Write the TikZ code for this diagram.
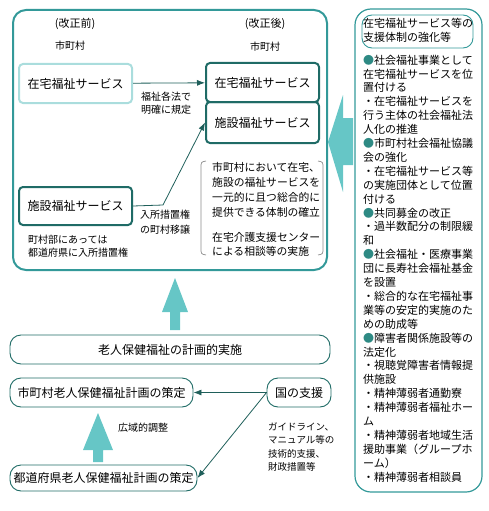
\documentclass[tikz,border=0pt]{standalone}
\usepackage{fontspec}
\setmainfont{Noto Sans CJK JP}
\usetikzlibrary{arrows.meta,calc}
\definecolor{frame}{HTML}{339999}
\definecolor{darkbox}{HTML}{1F6B66}
\definecolor{lightbox}{HTML}{AADDDD}
\definecolor{bigarrow}{HTML}{66C6C6}
\definecolor{conncol}{HTML}{1F5F5A}
\definecolor{brk}{HTML}{8A8A8A}
\definecolor{bul}{HTML}{2E8A84}
\begin{document}
\begin{tikzpicture}[x=1pt,y=-1pt,
  fA/.style={font=\fontsize{12}{14}\selectfont},
  fB/.style={font=\fontsize{11}{13.9}\selectfont},
  fC/.style={font=\fontsize{10}{13}\selectfont},
  darkstyle/.style={draw=darkbox,line width=2pt,rounded corners=4pt,inner sep=0pt,fA},
  lightstyle/.style={draw=lightbox,line width=2pt,rounded corners=4pt,inner sep=0pt,fA},
  planstyle/.style={draw=darkbox,line width=0.9pt,rounded corners=11pt,inner sep=0pt,fA},
  conn/.style={draw=conncol,line width=0.8pt,-{Latex[length=8pt,width=6pt]}},
  arr/.style={fill=bigarrow,draw=none},
  lbl/.style={inner sep=0pt}]
\useasboundingbox (0,0) rectangle (488,511);

% main frame
\draw[frame,line width=2pt,rounded corners=13pt] (13,10) rectangle (327,270);
% right frame
\draw[frame,line width=1.2pt,rounded corners=16pt] (355,9) rectangle (482,492);
\draw[frame,line width=0.9pt,rounded corners=10pt] (362,15) rectangle (473,48);

% headings
\node[lbl,fB] (before) at (75,24) {(改正前)};
\node[lbl,fC] (cityL) at (70,46) {市町村};
\node[lbl,fB] (after) at (265,24) {(改正後)};
\node[lbl,fC] (cityR) at (265,47) {市町村};

% service boxes
\node[lightstyle,minimum width=113pt,minimum height=39pt] (zai1) at (75.5,83.5) {在宅福祉サービス};
\node[darkstyle,minimum width=113pt,minimum height=39pt] (zai2) at (262.5,82.5) {在宅福祉サービス};
\node[darkstyle,minimum width=113pt,minimum height=41pt] (shi2) at (262.5,122.5) {施設福祉サービス};
\node[darkstyle,minimum width=113pt,minimum height=38pt] (shi1) at (75.5,206) {施設福祉サービス};

\node[lbl,fC,align=center] (law) at (166,103.5) {福祉各法で\\明確に規定};
\node[lbl,fC,align=center,font=\fontsize{10}{15}\selectfont] (trans) at (165,222.5) {入所措置権\\の町村移譲};
\node[lbl,fC,align=left,anchor=west] (town) at (28,246.5) {町村部にあっては\\都道府県に入所措置権};

\draw[conn] (zai1) -- (zai2);
\coordinate (bend) at (163,205);
\draw[conn] (shi1.east) -- (bend) -- (shi2.west);

% bracket text
\draw[brk,line width=0.7pt] (206,161) .. controls (201,162) .. (201,168) -- (201,248) .. controls (201,254) .. (206,255);
\draw[brk,line width=0.7pt] (318,161) .. controls (323,162) .. (323,168) -- (323,248) .. controls (323,254) .. (318,255);
\node[lbl,anchor=west,align=left,font=\fontsize{10.8}{15}\selectfont] (sys) at (212,189.5) {市町村において在宅、\\施設の福祉サービスを\\一元的に且つ総合的に\\提供できる体制の確立};
\node[lbl,anchor=west,align=left,font=\fontsize{10.8}{13.5}\selectfont] (center) at (212,244.5) {在宅介護支援センター\\による相談等の実施};

% big arrows
\fill[arr] (328,142) -- (343,95) -- (343,118) -- (353,118) -- (353,165) -- (343,165) -- (343,192) -- cycle;
\fill[arr] (175,278) -- (188,312) -- (180,312) -- (180,330) -- (170,330) -- (170,312) -- (162,312) -- cycle;
\fill[arr] (98,413) -- (113,450) -- (103,450) -- (103,462) -- (93,462) -- (93,450) -- (83,450) -- cycle;

% bottom part
\node[planstyle,minimum width=320pt,minimum height=29pt] (plan) at (170,349.5) {老人保健福祉の計画的実施};
\node[planstyle,minimum width=183pt,minimum height=29pt] (shiplan) at (101.5,392.5) {市町村老人保健福祉計画の策定};
\node[planstyle,minimum width=64pt,minimum height=29pt] (kuni) at (299,392.5) {国の支援};
\node[planstyle,minimum width=187pt,minimum height=26pt] (todo) at (103.5,478) {都道府県老人保健福祉計画の策定};

\draw[conn] (kuni.west) -- (kuni.west -| shiplan.east);
\draw[conn] (kuni.west) -- (todo.east);

\node[lbl,fC,anchor=west] (wide) at (118,428) {広域的調整};
\node[lbl,anchor=west,align=left,font=\fontsize{9.5}{13.3}\selectfont] (guide) at (268,447) {ガイドライン、\\マニュアル等の\\技術的支援、\\財政措置等};

% right column
\node[lbl,anchor=west,align=left,font=\fontsize{11}{14}\selectfont] (head) at (363,30) {在宅福祉サービス等の\\支援体制の強化等};
\foreach \t [count=\i] in {
  {\textcolor{bul}{●}社会福祉事業として},
  {在宅福祉サービスを位},
  {置付ける},
  {・在宅福祉サービスを},
  {行う主体の社会福祉法},
  {人化の推進},
  {\textcolor{bul}{●}市町村社会福祉協議},
  {会の強化},
  {・在宅福祉サービス等},
  {の実施団体として位置},
  {付ける},
  {\textcolor{bul}{●}共同募金の改正},
  {・過半数配分の制限緩},
  {和},
  {\textcolor{bul}{●}社会福祉・医療事業},
  {団に長寿社会福祉基金},
  {を設置},
  {・総合的な在宅福祉事},
  {業等の安定的実施のた},
  {めの助成等},
  {\textcolor{bul}{●}障害者関係施設等の},
  {法定化},
  {・視聴覚障害者情報提},
  {供施設},
  {・精神薄弱者通勤寮},
  {・精神薄弱者福祉ホー},
  {ム},
  {・精神薄弱者地域生活},
  {援助事業（グループホ},
  {ーム）},
  {・精神薄弱者相談員}}
{
  \node[lbl,fB,anchor=west] (r\i) at (363,{60+(\i-1)*13.9}) {\t};
}
\end{tikzpicture}
\end{document}
